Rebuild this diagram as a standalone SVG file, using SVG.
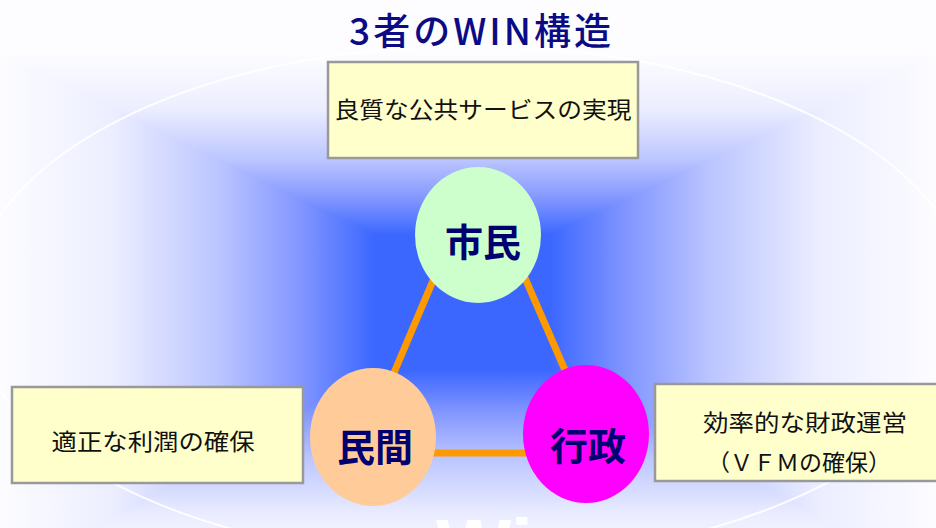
<svg xmlns="http://www.w3.org/2000/svg" width="936" height="528" viewBox="0 0 936 528">
<style>
.box{fill:#FFFFCC;stroke:#999999;stroke-width:2.5}
.bt{font-family:"Noto Sans CJK JP","Noto Sans",sans-serif;font-size:23px;fill:#111;text-anchor:middle}
.nt{font-family:"Noto Sans CJK JP","Noto Sans",sans-serif;font-size:38px;font-weight:bold;fill:#000070;text-anchor:middle}
.seg{stroke-width:1}
</style>
<defs>
<linearGradient id="gt" gradientUnits="userSpaceOnUse" x1="0" y1="55" x2="0" y2="235">
<stop offset="0" stop-color="#FCFCFF"/><stop offset="0.3" stop-color="#ECEEFF"/><stop offset="0.58" stop-color="#BCC6FF"/><stop offset="0.8" stop-color="#8296FF"/><stop offset="1" stop-color="#3B67FF"/>
</linearGradient>
<linearGradient id="gb" gradientUnits="userSpaceOnUse" x1="0" y1="580" x2="0" y2="370">
<stop offset="0" stop-color="#FCFCFF"/><stop offset="0.3" stop-color="#ECEEFF"/><stop offset="0.58" stop-color="#BCC6FF"/><stop offset="0.8" stop-color="#8296FF"/><stop offset="1" stop-color="#3B67FF"/>
</linearGradient>
<linearGradient id="gl" gradientUnits="userSpaceOnUse" x1="0" y1="0" x2="375" y2="0">
<stop offset="0" stop-color="#FCFCFF"/><stop offset="0.3" stop-color="#ECEEFF"/><stop offset="0.58" stop-color="#BCC6FF"/><stop offset="0.8" stop-color="#8296FF"/><stop offset="1" stop-color="#3B67FF"/>
</linearGradient>
<linearGradient id="gr" gradientUnits="userSpaceOnUse" x1="936" y1="0" x2="550" y2="0">
<stop offset="0" stop-color="#FCFCFF"/><stop offset="0.3" stop-color="#ECEEFF"/><stop offset="0.58" stop-color="#BCC6FF"/><stop offset="0.8" stop-color="#8296FF"/><stop offset="1" stop-color="#3B67FF"/>
</linearGradient>
</defs>
<rect x="0" y="0" width="936" height="528" fill="#FDFDFF"/>
<g id="glow">
<polygon points="0,55 936,55 550,235 375,235" fill="url(#gt)" stroke="url(#gt)" class="seg"/>
<polygon points="0,580 936,580 550,370 375,370" fill="url(#gb)" stroke="url(#gb)" class="seg"/>
<polygon points="0,55 375,235 375,370 0,580" fill="url(#gl)" stroke="url(#gl)" class="seg"/>
<polygon points="936,55 550,235 550,370 936,580" fill="url(#gr)" stroke="url(#gr)" class="seg"/>
<rect x="375" y="235" width="175" height="135" fill="#3B67FF"/>
</g>
<ellipse cx="470" cy="303" rx="500" ry="257" fill="none" stroke="#FFFFFF" stroke-width="2" stroke-opacity="0.9"/>
<text x="436" y="575" font-family="Liberation Sans,Arial,sans-serif" font-size="80" font-weight="bold" fill="#FFFFFF">Win</text>
<g id="title">
<text x="480" y="45" font-family="Noto Sans CJK JP,Noto Sans,sans-serif" font-size="37" font-weight="500" fill="#0B0B86" text-anchor="middle" textLength="262" lengthAdjust="spacing">3者のWIN構造</text>
</g>
<g id="connectors">
<polygon points="479,172 360,453 601,453" fill="none" stroke="#FF9900" stroke-width="7" stroke-linejoin="round"/>
</g>
<g id="box-citizen">
<rect class="box" x="328" y="62" width="310" height="96"/>
<text class="bt" x="483" y="118" textLength="297" lengthAdjust="spacingAndGlyphs">良質な公共サービスの実現</text>
</g>
<g id="box-private">
<rect class="box" x="12" y="387" width="291" height="96"/>
<text class="bt" x="153" y="450" textLength="203" lengthAdjust="spacingAndGlyphs">適正な利潤の確保</text>
</g>
<g id="box-gov">
<rect class="box" x="655" y="384" width="295" height="97"/>
<text class="bt" x="805" y="431" textLength="204" lengthAdjust="spacingAndGlyphs">効率的な財政運営</text>
<text class="bt" x="799" y="471">（ＶＦＭの確保）</text>
</g>
<g id="node-citizen">
<ellipse cx="478" cy="235" rx="63" ry="68" fill="#CCFFCC"/>
<text class="nt" x="483" y="256">市民</text>
</g>
<g id="node-private">
<ellipse cx="373" cy="437" rx="63" ry="69" fill="#FFCC99"/>
<text class="nt" x="375" y="461">民間</text>
</g>
<g id="node-gov">
<ellipse cx="586" cy="434" rx="63" ry="69" fill="#FF00FF"/>
<text class="nt" x="588" y="460">行政</text>
</g>
</svg>
